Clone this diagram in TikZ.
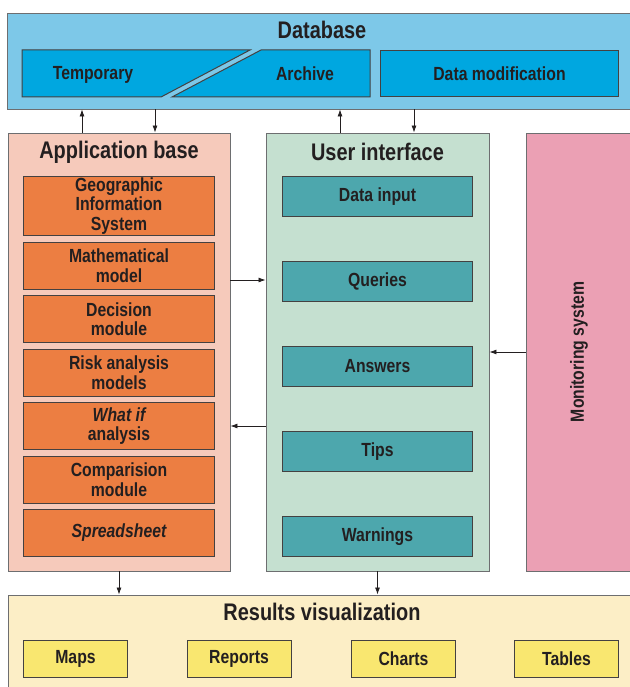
\documentclass[tikz,border=0pt]{standalone}
\usepackage{fontspec}
\setmainfont[FakeStretch=0.83]{Liberation Sans}
\usetikzlibrary{arrows.meta,positioning}

\definecolor{dbouter}{HTML}{7DC8E8}
\definecolor{dbinner}{HTML}{00A7E0}
\definecolor{appouter}{HTML}{F6CABB}
\definecolor{appinner}{HTML}{EC7E42}
\definecolor{uiouter}{HTML}{C5E0D0}
\definecolor{uiinner}{HTML}{4DA7AD}
\definecolor{monpink}{HTML}{EBA0B4}
\definecolor{resouter}{HTML}{FCEEC6}
\definecolor{resinner}{HTML}{F9E770}
\definecolor{edge}{HTML}{6D6E70}
\definecolor{ink}{HTML}{231F20}

\tikzset{
  frame/.style={draw=edge, line width=0.9pt, inner sep=0pt},
  titletext/.style={font=\fontsize{24}{26}\selectfont\bfseries, text=ink},
  boxtext/.style={font=\fontsize{19}{19.5}\selectfont\bfseries, text=ink, align=center},
  inbox/.style={frame, boxtext, draw=ink!85, line width=1pt},
  appbox/.style={inbox, fill=appinner, minimum width=191pt, minimum height=47pt},
  uibox/.style={inbox, fill=uiinner, minimum width=190pt, minimum height=40pt},
  resbox/.style={inbox, fill=resinner, minimum width=104pt, minimum height=37pt},
  arr/.style={-{Latex[length=7pt,width=5pt]}, line width=0.8pt, draw=ink},
}

\begin{document}
\begin{tikzpicture}[x=1pt,y=-1pt]
    \useasboundingbox (0,0) rectangle (629,687);

    % database
    \node [frame, fill=dbouter, minimum width=625pt, minimum height=96pt] (db) at (319.5,61) {};
    \node [titletext] (dbtitle) at (322,30) {Database};
    \fill [dbinner, draw=ink!85, line width=1pt] (22,50) -- (250,50) -- (161,97) -- (22,97) -- cycle;
    \fill [dbinner, draw=ink!85, line width=1pt] (261,50) -- (370,50) -- (370,97) -- (172,97) -- cycle;
    \node [boxtext] (temp) at (93,74.5) {Temporary};
    \node [boxtext] (arch) at (305,73.5) {Archive};
    \node [inbox, fill=dbinner, minimum width=238pt, minimum height=46pt] (dmod) at (499.5,73.5) {Data modification};

    % application base
    \node [frame, fill=appouter, minimum width=222pt, minimum height=438pt] (app) at (119,352) {};
    \node [titletext] (apptitle) at (119,152) {Application base};
    \node [appbox, minimum height=59pt] (gis) at (119,206) {Geographic\\Information\\System};
    \node [appbox, below=5.5pt of gis] (math) {Mathematical\\model};
    \node [appbox, below=5.5pt of math] (dec) {Decision\\module};
    \node [appbox, below=5.5pt of dec] (risk) {Risk analysis\\models};
    \node [appbox, below=5.5pt of risk] (whatif) {\itshape What if\\analysis};
    \node [appbox, below=5.5pt of whatif] (comp) {Comparision\\module};
    \node [appbox, below=5.5pt of comp] (sheet) {\itshape Spreadsheet};

    % user interface
    \node [frame, fill=uiouter, minimum width=223pt, minimum height=438pt] (ui) at (377.5,352) {};
    \node [titletext] (uititle) at (377.5,152) {User interface};
    \node [uibox] (input) at (377.5,196.5) {Data input};
    \node [uibox, below=44pt of input] (query) {Queries};
    \node [uibox, below=44pt of query] (answer) {Answers};
    \node [uibox, below=44pt of answer] (tips) {Tips};
    \node [uibox, below=44pt of tips] (warn) {Warnings};

    % monitoring
    \node [frame, fill=monpink, minimum width=106pt, minimum height=438pt] (mon) at (579,352) {};
    \node [boxtext, rotate=90] (montext) at (mon.center) {Monitoring system};

    % results
    \node [frame, fill=resouter, minimum width=624pt, minimum height=95pt] (res) at (320,642.5) {};
    \node [titletext] (restitle) at (322,612) {Results visualization};
    \node [resbox] (maps) at (75.5,659) {Maps};
    \node [resbox] (reports) at (239,659) {Reports};
    \node [resbox] (charts) at (403.5,659) {Charts};
    \node [resbox] (tables) at (566.5,659) {Tables};

    % connectors
    \draw [arr] ([xshift=-37pt]app.north) -- ([xshift=-37pt]app.north |- db.south);
    \draw [arr] ([xshift=36pt]app.north |- db.south) -- ([xshift=36pt]app.north);
    \draw [arr] ([xshift=-37.5pt]ui.north) -- ([xshift=-37.5pt]ui.north |- db.south);
    \draw [arr] ([xshift=36.5pt]ui.north |- db.south) -- ([xshift=36.5pt]ui.north);
    \draw [arr] ([yshift=72pt]app.east) -- ([yshift=72pt]app.east -| ui.west);
    \draw [arr] ([yshift=-74pt]app.east -| ui.west) -- ([yshift=-74pt]app.east);
    \draw [arr] (mon.west) -- (mon.west -| ui.east);
    \draw [arr] (app.south) -- (app.south |- res.north);
    \draw [arr] (ui.south) -- (ui.south |- res.north);
\end{tikzpicture}
\end{document}
